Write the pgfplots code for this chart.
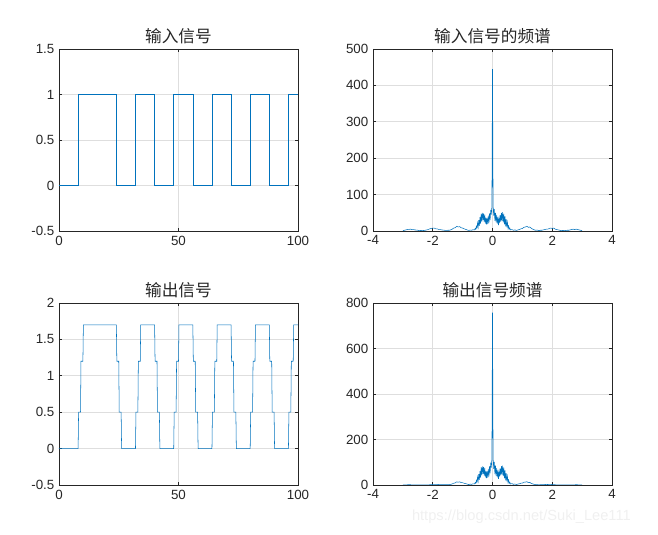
\documentclass[border=0pt]{standalone}
\usepackage{fontspec}
\setmainfont{Liberation Sans}
\newfontfamily\cjk{Noto Sans CJK SC}
\usepackage{pgfplots}
\pgfplotsset{compat=1.18}
\definecolor{mblue}{rgb}{0,0.447,0.741}
\definecolor{wm}{rgb}{0.94,0.94,0.94}
\pgfplotsset{mystyle/.style={
  scale only axis, width=179.25pt, height=136.5pt, anchor=south west,
  axis line style={draw=black!85, line width=0.6pt},
  every tick/.style={draw=black!85, line width=0.5pt},
  major tick length=2.2pt, tick align=inside,
  grid=major, grid style={draw=black!13, line width=0.5pt},
  ticklabel style={font=\fontsize{10}{12}\selectfont, text=black!85},
  /pgf/number format/assume math mode=true,
  title style={font=\cjk\fontsize{12.5}{14}\selectfont, text=black!85, yshift=-6pt},
  cycle list={{mblue, line width=0.6pt, mark=none}},
}}
\begin{document}
\begin{tikzpicture}
\useasboundingbox (0,0) rectangle (493.5pt,401.25pt);
% top-left: input signal
\begin{axis}[mystyle, at={(44.25pt,228pt)}, title={输入信号},
  xmin=0, xmax=100, ymin=-0.5, ymax=1.5,
  xtick={0,50,100}, ytick={-0.5,0,0.5,1,1.5}]
\addplot coordinates {(0,0)(8,0)(8,1)(24,1)(24,0)(32,0)(32,1)(40,1)(40,0)(48,0)(48,1)(56,1)(56,0)(64,0)(64,1)(72,1)(72,0)(80,0)(80,1)(88,1)(88,0)(96,0)(96,1)(100,1)};
\end{axis}
% top-right: input spectrum
\begin{axis}[mystyle, at={(279.75pt,228pt)}, title={输入信号的频谱},
  xmin=-4, xmax=4, ymin=0, ymax=500,
  xtick={-4,-2,0,2,4}, ytick={0,100,200,300,400,500}]
\addplot coordinates {
(-3.00,1)(-2.95,2)(-2.90,3)(-2.85,4)(-2.80,4.5)(-2.75,5)(-2.70,4)(-2.65,4)(-2.60,3)(-2.55,2.5)(-2.50,2)(-2.45,1)(-2.40,1.5)(-2.35,1)(-2.30,1.5)(-2.25,2)(-2.20,3)(-2.15,4)(-2.10,6)(-2.05,7)(-2.00,8)(-1.95,8)(-1.90,6)(-1.85,6)(-1.80,4)(-1.75,4)(-1.70,3)(-1.65,2.5)(-1.60,2)(-1.55,1.5)(-1.50,2)(-1.45,2)(-1.40,3)(-1.35,5)(-1.30,8)(-1.25,9)(-1.20,13)(-1.15,11)(-1.10,12)(-1.05,9)(-1.00,8)(-0.95,6)(-0.90,4.5)(-0.85,3)(-0.80,1.5)(-0.75,2.5)(-0.70,2)(-0.65,3.5)(-0.60,3)
(-0.58,7)(-0.56,5)(-0.54,13)(-0.52,8)(-0.50,22)(-0.48,11)(-0.46,30)(-0.44,14)(-0.42,38)(-0.40,20)(-0.38,48)(-0.36,26)(-0.34,50)(-0.32,30)(-0.30,48)(-0.28,25)(-0.26,45)(-0.24,20)(-0.22,37)(-0.20,18)(-0.18,36)(-0.16,19)(-0.14,42)(-0.12,22)(-0.10,48)(-0.08,30)(-0.06,58)(-0.04,45)(-0.02,68)
(0,445)
(0.02,70)(0.04,42)(0.06,60)(0.08,28)(0.10,50)(0.12,24)(0.14,44)(0.16,20)(0.18,38)(0.20,16)(0.22,35)(0.24,22)(0.26,44)(0.28,26)(0.30,50)(0.32,28)(0.34,52)(0.36,24)(0.38,47)(0.40,18)(0.42,40)(0.44,13)(0.46,32)(0.48,10)(0.50,24)(0.52,7)(0.54,14)(0.56,5)(0.58,8)(0.60,3)
(0.65,4)(0.70,2)(0.75,3)(0.80,1.5)(0.85,3)(0.90,4)(0.95,6)(1.00,7)(1.05,10)(1.10,11)(1.15,13)(1.20,10)(1.25,11)(1.30,7)(1.35,5)(1.40,3)(1.45,2)(1.50,2.5)(1.55,1)(1.60,2)(1.65,2)(1.70,3)(1.75,4)(1.80,5)(1.85,5)(1.90,7)(1.95,8)(2.00,7)(2.05,8)(2.10,5)(2.15,4)(2.20,3)(2.25,2)(2.30,1)(2.35,1.5)(2.40,1)(2.45,1.5)(2.50,2)(2.55,2)(2.60,3)(2.65,4)(2.70,5)(2.75,4)(2.80,5)(2.85,4)(2.90,3)(2.95,2)(3.00,1)};
\end{axis}
% bottom-left: output signal
\begin{axis}[mystyle, at={(44.25pt,37.5pt)}, title={输出信号},
  xmin=0, xmax=100, ymin=-0.5, ymax=2,
  xtick={0,50,100}, ytick={-0.5,0,0.5,1,1.5,2}]
\addplot coordinates {(0,0)(8,0)(8.2,0.5)(9,0.5)(9.2,1.2)(10,1.2)(10.2,1.7)
(24,1.7)(24.2,1.2)(25,1.2)(25.2,0.5)(26,0.5)(26.2,0)
(32,0)(32.2,0.5)(33,0.5)(33.2,1.2)(34,1.2)(34.2,1.7)
(40,1.7)(40.2,1.2)(41,1.2)(41.2,0.5)(42,0.5)(42.2,0)
(48,0)(48.2,0.5)(49,0.5)(49.2,1.2)(50,1.2)(50.2,1.7)
(56,1.7)(56.2,1.2)(57,1.2)(57.2,0.5)(58,0.5)(58.2,0)
(64,0)(64.2,0.5)(65,0.5)(65.2,1.2)(66,1.2)(66.2,1.7)
(72,1.7)(72.2,1.2)(73,1.2)(73.2,0.5)(74,0.5)(74.2,0)
(80,0)(80.2,0.5)(81,0.5)(81.2,1.2)(82,1.2)(82.2,1.7)
(88,1.7)(88.2,1.2)(89,1.2)(89.2,0.5)(90,0.5)(90.2,0)
(96,0)(96.2,0.5)(97,0.5)(97.2,1.2)(98,1.2)(98.2,1.7)(100,1.7)};
\end{axis}
% bottom-right: output spectrum
\begin{axis}[mystyle, at={(279.75pt,37.5pt)}, title={输出信号频谱},
  xmin=-4, xmax=4, ymin=0, ymax=800,
  xtick={-4,-2,0,2,4}, ytick={0,200,400,600,800}]
\addplot coordinates {
(-3.00,0.29)(-2.95,0.56)(-2.90,0.8)(-2.85,1.0)(-2.80,1.1)(-2.75,1.1)(-2.70,0.82)(-2.65,0.73)(-2.60,0.47)(-2.55,0.33)(-2.50,0.2)(-2.45,0.07)(-2.40,0.06)(-2.35,0.0)(-2.30,0.05)(-2.25,0.14)(-2.20,0.3)(-2.15,0.6)(-2.10,1.2)(-2.05,1.7)(-2.00,2.3)(-1.95,2.6)(-1.90,2.3)(-1.85,2.6)(-1.80,1.9)(-1.75,2.1)(-1.70,1.7)(-1.65,1.6)(-1.60,1.3)(-1.55,1.1)(-1.50,1.5)(-1.45,1.6)(-1.40,2.6)(-1.35,4.6)(-1.30,7.7)(-1.25,9.1)(-1.20,13.8)(-1.15,12.2)(-1.10,13.8)(-1.05,10.8)(-1.00,9.9)(-0.95,7.7)(-0.90,5.9)(-0.85,4.1)(-0.80,2.1)(-0.75,3.6)(-0.70,2.9)(-0.65,5.2)(-0.60,4.6)
(-0.58,10.8)(-0.56,7.7)(-0.54,20.3)(-0.52,12.5)(-0.50,34.7)(-0.48,17.5)(-0.46,47.9)(-0.44,22.5)(-0.42,61.3)(-0.40,32.4)(-0.38,78.2)(-0.36,42.5)(-0.34,82.2)(-0.32,49.5)(-0.30,79.4)(-0.28,41.5)(-0.26,75.0)(-0.24,33.4)(-0.22,62.0)(-0.20,30.2)(-0.18,60.6)(-0.16,32.1)(-0.14,71.0)(-0.12,37.2)(-0.10,81.4)(-0.08,50.9)(-0.06,98.5)(-0.04,76.5)(-0.02,115.6)
(0,758)
(0.02,119)(0.04,71.4)(0.06,101.9)(0.08,47.5)(0.10,84.8)(0.12,40.6)(0.14,74.4)(0.16,33.7)(0.18,64.0)(0.20,26.9)(0.22,58.7)(0.24,36.8)(0.26,73.3)(0.28,43.2)(0.30,82.8)(0.32,46.2)(0.34,85.4)(0.36,39.3)(0.38,76.6)(0.40,29.2)(0.42,64.5)(0.44,20.9)(0.46,51.1)(0.48,15.9)(0.50,37.9)(0.52,11.0)(0.54,21.8)(0.56,7.7)(0.58,12.3)(0.60,4.6)
(0.65,6.0)(0.70,2.9)(0.75,4.3)(0.80,2.1)(0.85,4.1)(0.90,5.3)(0.95,7.7)(1.00,8.7)(1.05,12.0)(1.10,12.7)(1.15,14.4)(1.20,10.6)(1.25,11.2)(1.30,6.8)(1.35,4.6)(1.40,2.6)(1.45,1.6)(1.50,1.9)(1.55,0.7)(1.60,1.3)(1.65,1.2)(1.70,1.7)(1.75,2.1)(1.80,2.4)(1.85,2.1)(1.90,2.6)(1.95,2.6)(2.00,2.0)(2.05,1.9)(2.10,1.0)(2.15,0.6)(2.20,0.3)(2.25,0.1)(2.30,0.03)(2.35,0.0)(2.40,0.04)(2.45,0.1)(2.50,0.2)(2.55,0.26)(2.60,0.47)(2.65,0.73)(2.70,1.0)(2.75,0.9)(2.80,1.2)(2.85,1.0)(2.90,0.8)(2.95,0.6)(3.00,0.3)};
\end{axis}
\node[anchor=west, text=wm, font=\fontsize{11}{13}\selectfont, inner sep=0pt] at (308.8pt,13.7pt) {https://blog.csdn.net/Suki\_Lee111};
\end{tikzpicture}
\end{document}
